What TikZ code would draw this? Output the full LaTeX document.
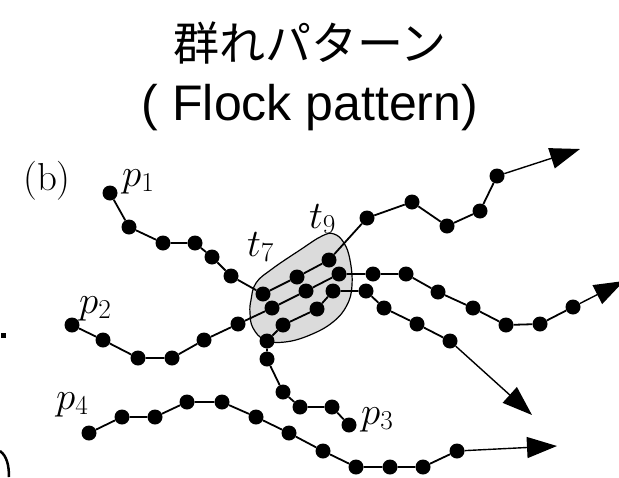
\RequirePackage{fix-cm}
\documentclass[tikz,border=0pt]{standalone}
\usepackage{fontspec}
\usepackage{amsmath}
\newfontfamily\cjk{Noto Sans CJK JP}
\newfontfamily\arial{Liberation Sans}
\usetikzlibrary{arrows.meta}

\begin{document}
\begin{tikzpicture}[x=1pt, y=-1pt,
    dot/.style={circle, fill=black, inner sep=0pt, minimum size=15pt},
    traj/.style={line width=1.8pt},
    lbl/.style={font=\fontsize{39}{42}\selectfont, inner sep=0pt},
    tip/.style={line width=1.4pt, -{Triangle[length=30pt, width=21pt]}}]

    \clip (0,0) rectangle (619,477);

    % Title
    \node (title) at (310,43) {\cjk\fontsize{46}{50}\selectfont 群れパターン};
    \node[anchor=base] (subtitle) at (310,120) {\arial\fontsize{50}{54}\selectfont ( Flock pattern)};

    % leftovers at the left edge
    \fill (1,333) rectangle (6,338);
    \draw[line width=2.5pt] (0,451) .. controls (7,456) and (9,466) .. (9,477);

    % The flock region
    \filldraw[fill=gray!28, line width=1.2pt] plot[smooth cycle, tension=0.7] coordinates {
        (251,300) (256,283) (272,269) (300,250) (322,236) (334,234)
        (344,243) (350,260) (352,285) (347,305) (333,322) (310,335)
        (285,342) (265,340) (253,328) (250,313)};

    % p1
    \foreach \n/\x/\y in {1/110/193, 2/129/227, 3/163/243, 4/195/243, 5/212/257, 6/231/276}
        \node[dot] (a\n) at (\x,\y) {};
    % p2
    \foreach \n/\x/\y in {1/72/325, 2/103/340, 3/138/358, 4/172/358, 5/204/340, 6/238/324}
        \node[dot] (b\n) at (\x,\y) {};
    % p3
    \foreach \n/\x/\y in {1/349/425, 2/332/407, 3/300/407, 4/283/392, 5/267/359, 6/267/341}
        \node[dot] (c\n) at (\x,\y) {};
    % p4
    \foreach \n/\x/\y in {1/89/433, 2/122/417, 3/155/417, 4/187/402, 5/222/402, 6/256/417,
                          7/289/433, 8/323/451, 9/356/467, 10/390/467, 11/423/467, 12/457/451}
        \node[dot] (d\n) at (\x,\y) {};

    % the three lines through the flock and beyond
    \foreach \n/\x/\y in {1/263/294, 2/297/277, 3/329/260, 4/367/218, 5/412/202,
                          6/447/226, 7/480/211, 8/497/176}
        \node[dot] (A\n) at (\x,\y) {};
    \foreach \n/\x/\y in {1/272/308, 2/306/291, 3/339/274, 4/373/274, 5/406/274,
                          6/438/292, 7/473/308, 8/506/325, 9/540/324, 10/573/307}
        \node[dot] (B\n) at (\x,\y) {};
    \foreach \n/\x/\y in {1/283/325, 2/317/309, 3/333/291, 4/366/291, 5/384/308,
                          6/417/324, 7/450/341}
        \node[dot] (C\n) at (\x,\y) {};

    % arrow ends
    \coordinate (endA) at (580,149);
    \coordinate (endB) at (624,281);
    \coordinate (endC) at (532,415);
    \coordinate (endD) at (557,446);

    % connectors
    \draw[traj] (a1) -- (a2) -- (a3) -- (a4) -- (a5) -- (a6) -- (A1);
    \draw[traj] (b1) -- (b2) -- (b3) -- (b4) -- (b5) -- (b6) -- (B1);
    \draw[traj] (c1) -- (c2) -- (c3) -- (c4) -- (c5) -- (c6) -- (C1);
    \draw[traj] (d1) -- (d2) -- (d3) -- (d4) -- (d5) -- (d6) -- (d7) -- (d8)
        -- (d9) -- (d10) -- (d11) -- (d12);
    \draw[traj] (A1) -- (A2) -- (A3) -- (A4) -- (A5) -- (A6) -- (A7) -- (A8);
    \draw[traj] (B1) -- (B2) -- (B3) -- (B4) -- (B5) -- (B6) -- (B7) -- (B8)
        -- (B9) -- (B10);
    \draw[traj] (C1) -- (C2) -- (C3) -- (C4) -- (C5) -- (C6) -- (C7);
    \draw[tip] (A8) -- (endA);
    \draw[tip] (B10) -- (endB);
    \draw[tip] (C7) -- (endC);
    \draw[tip] (d12) -- (endD);

    % Labels
    \node[lbl] (b) at (47,181) {(b)};
    \node[lbl, anchor=base west] (p1) at (122,186) {$p_1$};
    \node[lbl, anchor=base west] (p2) at (79,313) {$p_2$};
    \node[lbl, anchor=base west] (p3) at (361,424) {$p_3$};
    \node[lbl, anchor=base west] (p4) at (56,409) {$p_4$};
    \node[lbl, anchor=base west] (t7) at (247,256) {$t_7$};
    \node[lbl, anchor=base west] (t9) at (309,228) {$t_9$};

\end{tikzpicture}
\end{document}
